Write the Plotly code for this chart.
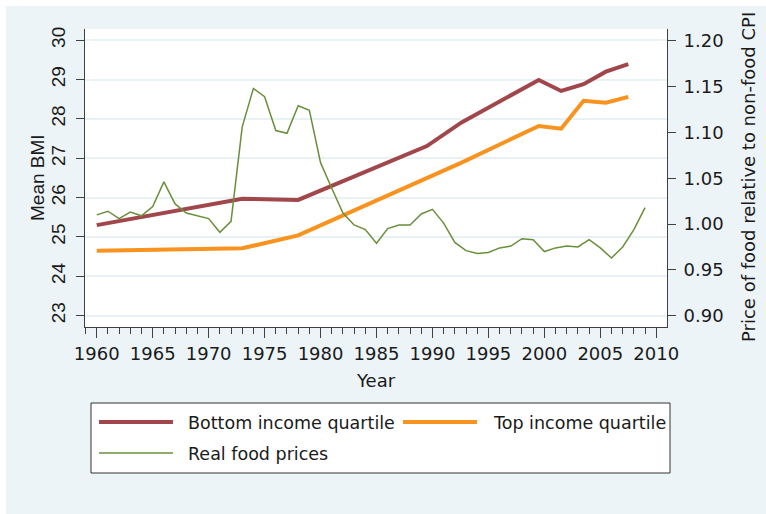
import plotly.graph_objects as go

# ---------------- data ----------------
bmi_years = [1960, 1973, 1978, 1989.5, 1992.6, 1999.5, 2001.5, 2003.5, 2005.5, 2007.5]
bmi_bottom = [25.30, 25.97, 25.94, 27.31, 27.91, 28.99, 28.71, 28.88, 29.20, 29.39]
bmi_top = [24.65, 24.71, 25.04, 26.49, 26.89, 27.82, 27.75, 28.46, 28.41, 28.56]

price_years = list(range(1960, 2010))
food_price = [1.010, 1.014, 1.006, 1.013, 1.009, 1.019, 1.046, 1.022, 1.012, 1.009,
              1.006, 0.991, 1.003, 1.106, 1.148, 1.139, 1.102, 1.099, 1.129, 1.124,
              1.067, 1.039, 1.012, 0.999, 0.994, 0.979, 0.995, 0.999, 0.999, 1.011,
              1.016, 1.001, 0.980, 0.971, 0.968, 0.969, 0.974, 0.976, 0.984, 0.983,
              0.970, 0.974, 0.976, 0.975, 0.983, 0.974, 0.963, 0.975, 0.994, 1.018]

x_ticks = [1960, 1965, 1970, 1975, 1980, 1985, 1990, 1995, 2000, 2005, 2010]
bmi_ticks = [23, 24, 25, 26, 27, 28, 29, 30]
price_ticks = [0.90, 0.95, 1.00, 1.05, 1.10, 1.15, 1.20]

names = ["Bottom income quartile", "Top income quartile", "Real food prices"]
colors = ["#A1474C", "#F7931E", "#6A8F3A"]

# ---------------- layout helpers (pixel -> paper) ----------------
W, H = 766, 514
L, R, T, B = 85, 667, 29, 327
def px(x):
    return (x - L) / (R - L)
def py(y):
    return (B - y) / (B - T)

BG = "#EDF4F7"
AX = "#404040"

fig = go.Figure()
fig.add_trace(go.Scatter(x=bmi_years, y=bmi_bottom, mode="lines", name=names[0],
                         line=dict(color=colors[0], width=4), yaxis="y"))
fig.add_trace(go.Scatter(x=bmi_years, y=bmi_top, mode="lines", name=names[1],
                         line=dict(color=colors[1], width=4), yaxis="y"))
fig.add_trace(go.Scatter(x=price_years, y=food_price, mode="lines", name=names[2],
                         line=dict(color=colors[2], width=1.5), yaxis="y2"))

tickfont_dv = dict(family="DejaVu Sans", size=18, color="#1a1a1a")

fig.update_layout(
    width=W, height=H,
    margin=dict(l=L, r=W - R, t=T, b=H - B, pad=0),
    paper_bgcolor=BG, plot_bgcolor="white",
    showlegend=False,
    xaxis=dict(range=[1958.95, 2010.96], tickvals=x_ticks, ticks="outside", ticklen=10,
               tickcolor=AX, tickwidth=1, showline=True, linecolor=AX, linewidth=1,
               showgrid=False, zeroline=False, tickfont=tickfont_dv,
               minor=dict(dtick=1, tick0=1960, ticks="outside", ticklen=6, tickcolor=AX, showgrid=False)),
    yaxis=dict(range=[22.71, 30.285], tickvals=bmi_ticks, ticks="outside", ticklen=8,
               tickcolor=AX, showline=True, linecolor=AX, linewidth=1,
               showgrid=True, gridcolor="#E8F1F4", gridwidth=1.5, zeroline=False,
               tickangle=-90, ticklabelstandoff=3,
               tickfont=dict(family="Liberation Sans", size=19, color="#1a1a1a")),
    yaxis2=dict(range=[0.8877, 1.2128], tickvals=price_ticks, ticktext=[f"{v:.2f}" for v in price_ticks],
                overlaying="y", side="right", ticks="outside", ticklen=8,
                tickcolor=AX, showline=True, linecolor=AX, linewidth=1,
                showgrid=False, zeroline=False, ticklabelstandoff=4, tickfont=tickfont_dv),
)

shapes = []
# white strips on top and left of the figure
shapes.append(dict(type="rect", xref="paper", yref="paper", x0=px(0), x1=px(W), y0=py(6), y1=py(0),
                   fillcolor="white", line=dict(width=0), layer="below"))
shapes.append(dict(type="rect", xref="paper", yref="paper", x0=px(0), x1=px(6), y0=py(H), y1=py(0),
                   fillcolor="white", line=dict(width=0), layer="below"))
# legend box
shapes.append(dict(type="rect", xref="paper", yref="paper", x0=px(91), x1=px(670), y0=py(473), y1=py(403),
                   fillcolor="white", line=dict(color="#333333", width=1), layer="above"))
# legend samples
legend_items = [(99, 173, 422, 0, 4), (403, 477, 422, 1, 4), (99, 173, 453, 2, 1.5)]
for x0, x1, yy, i, w in legend_items:
    shapes.append(dict(type="line", xref="paper", yref="paper", x0=px(x0), x1=px(x1), y0=py(yy), y1=py(yy),
                       line=dict(color=colors[i], width=w), layer="above"))
fig.update_layout(shapes=shapes)

ann = []
legend_text = [(186, 423, 0), (491, 423, 1), (186, 454, 2)]
for xx, yy, i in legend_text:
    ann.append(dict(xref="paper", yref="paper", x=px(xx), y=py(yy), xanchor="left", yanchor="middle",
                    text=names[i], showarrow=False, font=dict(family="DejaVu Sans", size=17.5, color="#1a1a1a")))
# axis titles
ann.append(dict(xref="paper", yref="paper", x=px(376), y=py(380), xanchor="center", yanchor="middle",
                text="Year", showarrow=False, font=dict(family="DejaVu Sans", size=18, color="#1a1a1a")))
ann.append(dict(xref="paper", yref="paper", x=px(37), y=py(178), xanchor="center", yanchor="middle",
                text="Mean BMI", textangle=-90, showarrow=False,
                font=dict(family="Liberation Sans", size=19, color="#1a1a1a")))
ann.append(dict(xref="paper", yref="paper", x=px(749), y=py(177), xanchor="center", yanchor="middle",
                text="Price of food relative to non-food CPI", textangle=-90, showarrow=False,
                font=dict(family="DejaVu Sans", size=18, color="#1a1a1a")))
fig.update_layout(annotations=ann)

fig.write_html("out.html", config={"displayModeBar": False},
               post_script="document.body.style.margin='0px';document.body.style.overflow='hidden';")
